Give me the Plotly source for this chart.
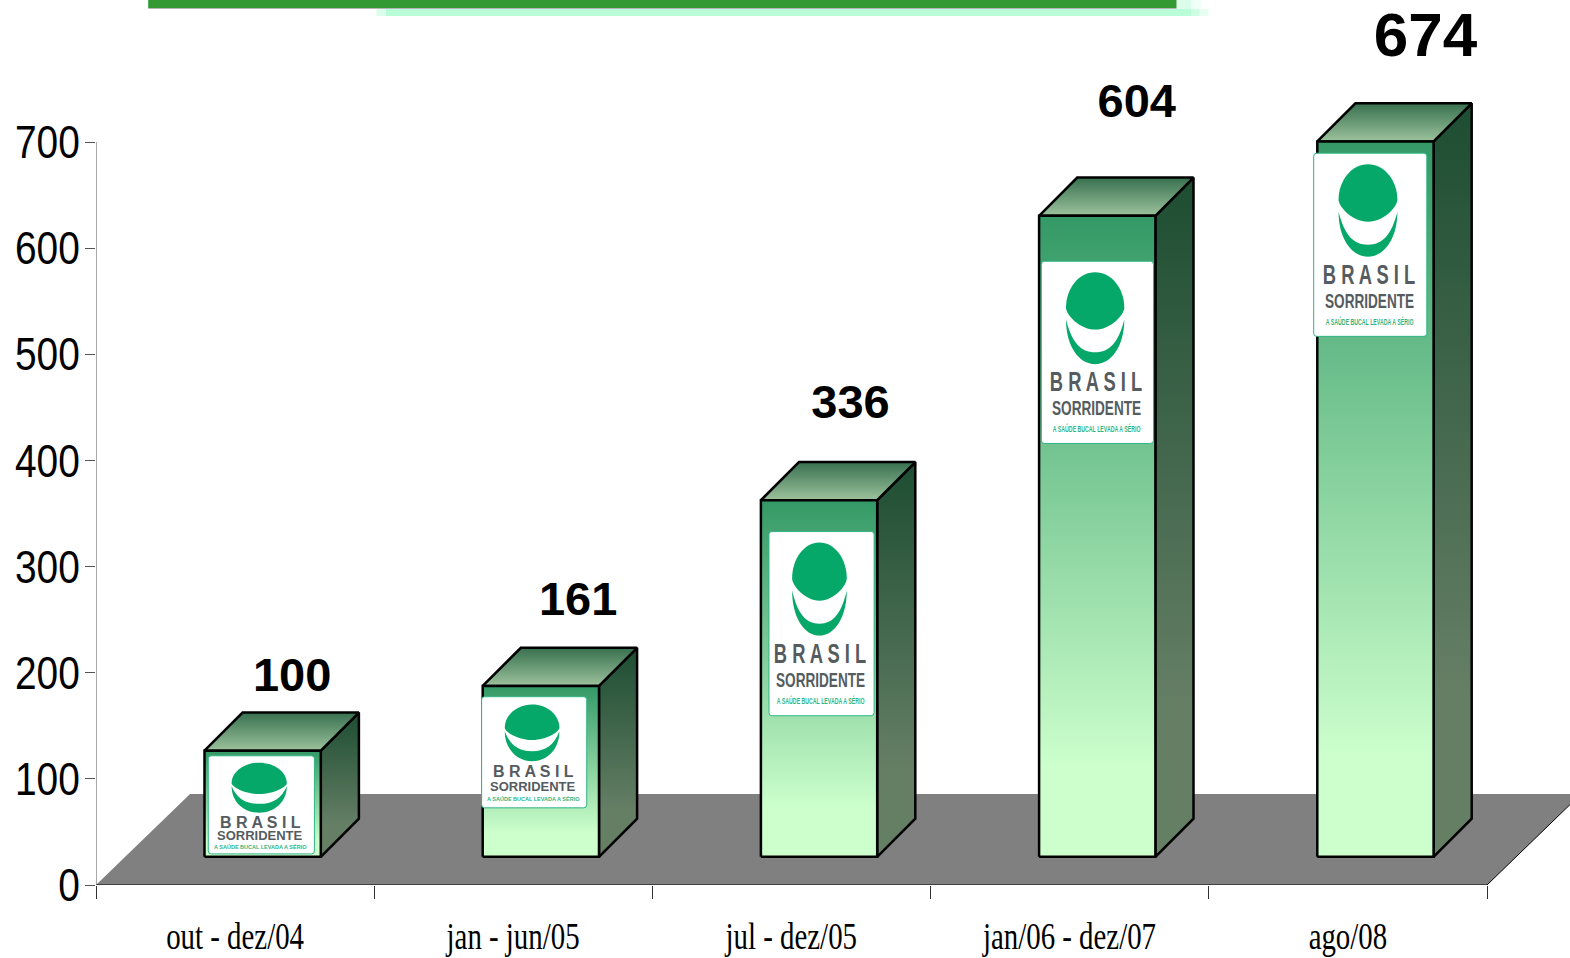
import plotly.graph_objects as go

categories = ["out - dez/04", "jan - jun/05", "jul - dez/05", "jan/06 - dez/07", "ago/08"]
values = [100, 161, 336, 604, 674]
label_y = [194, 265, 451, 735, 796]
label_x_offset = [0.205, 0.233, 0.212, 0.241, 0.279]
label_size = [47, 47, 47, 47, 62]
y_ticks = [0, 100, 200, 300, 400, 500, 600, 700]
# logo boxes, in page pixels: left, top, right, bottom
logo_boxes = [(208, 755, 314, 853), (481, 696, 586, 807), (768, 531, 873, 715),
              (1040, 261, 1152, 443), (1312, 153, 1425, 336)]

W, H = 1570, 958
AX_L, AX_R, AX_T, AX_B = 96, 1487, 142, 885
CAT_PX = (AX_R - AX_L) / len(categories)
UNIT_PX = (AX_B - AX_T) / 700
X_MIN, X_MAX = -0.5, -0.5 + (W - AX_L) / CAT_PX
Y_MAX = AX_B / UNIT_PX
BAR_W, BAR_SHIFT = 0.418, 0.099
DEPTH_X, DEPTH_Y = 0.137, 36
FLOOR_X, FLOOR_Y = 0.338, 85.8
BASE_Y = 26.5

def P(px, py):
    return (px * 1570 / 1568 - AX_L) / (W - AX_L), (AX_B - py * 958 / 957) / AX_B

GREEN = "#05a868"
TEAL = "#2fb583"
GREY = "#555c60"

fig = go.Figure()

fig.add_trace(go.Scatter(x=[-0.5, 4.5, 4.5 + FLOOR_X, -0.5 + FLOOR_X, -0.5], y=[0, 0, FLOOR_Y, FLOOR_Y, 0],
                         mode="lines", fill="toself", fillcolor="#808080", line=dict(width=0),
                         hoverinfo="skip"))
fig.add_trace(go.Scatter(x=[4.5, 4.5 + FLOOR_X], y=[0, FLOOR_Y], mode="lines",
                         line=dict(color="black", width=1), hoverinfo="skip"))
# axis lines stop at the last tick, though the plot area runs on
fig.add_trace(go.Scatter(x=[-0.5, 4.5], y=[0, 0], mode="lines", line=dict(color="black", width=1.2), hoverinfo="skip"))
fig.add_trace(go.Scatter(x=[-0.5, -0.5], y=[0, 700], mode="lines", line=dict(color="#555555", width=1), hoverinfo="skip"))

def face(xs, ys, stops):
    fig.add_trace(go.Scatter(x=xs + xs[:1], y=ys + ys[:1], mode="lines", fill="toself",
                             fillgradient=dict(type="vertical", colorscale=stops),
                             line=dict(color="black", width=2.5), hoverinfo="skip"))

SIDE = [[0, "#657f65"], [0.22, "#657f65"], [1, "#1d4d32"]]
TOP = [[0, "#9cc29c"], [1, "#38704f"]]
FRONT = [[0, "#ccffcc"], [0.14, "#ccffcc"], [1, "#339966"]]

for i, v in enumerate(values):
    x0 = i - 0.5 * BAR_W + BAR_SHIFT
    x1 = x0 + BAR_W
    y0 = BASE_Y
    y1 = BASE_Y + v
    face([x1, x1, x1 + DEPTH_X, x1 + DEPTH_X], [y0, y1, y1 + DEPTH_Y, y0 + DEPTH_Y], SIDE)
    face([x0, x1, x1 + DEPTH_X, x0 + DEPTH_X], [y1, y1, y1 + DEPTH_Y, y1 + DEPTH_Y], TOP)
    face([x0, x1, x1, x0], [y0, y0, y1, y1], FRONT)

fig.add_trace(go.Scatter(
    x=[i + o for i, o in enumerate(label_x_offset)], y=label_y, mode="text",
    text=[str(v) for v in values],
    textfont=dict(family="Liberation Sans", size=label_size, color="black", weight="bold"),
    hoverinfo="skip"))

shapes = []
annotations = []

def rect(x0, y0, x1, y1, fill):
    a, b = P(x0, y1)
    c, d = P(x1, y0)
    shapes.append(dict(type="rect", xref="paper", yref="paper", x0=a, y0=b, x1=c, y1=d,
                       fillcolor=fill, line=dict(width=0), layer="above"))

# banner at the page top
rect(385, 9, 1190, 16, "#b8fcd8")
rect(1190, 9, 1198, 16, "#cefde4")
rect(1198, 9, 1207, 16, "#e8fef3")
rect(376, 9, 385, 16, "#dcfdec")
rect(1175, 0, 1190, 9, "#dcfdec")
rect(1190, 0, 1200, 9, "#f0fff8")
rect(148, 0, 1175, 8, "#339933")
rect(148, 8, 1175, 9, "#b5b5b5")

def path(cmds):
    out = []
    for c in cmds:
        if c == "Z":
            out.append("Z")
        else:
            pts = " ".join("%.6f,%.6f" % P(px, py) for px, py in c[1:])
            out.append(c[0] + pts)
    return " ".join(out)

for (l, t, r, b) in logo_boxes:
    w, h = r - l, b - t
    X = lambda f: l + f * w
    Y = lambda f: t + f * h
    tall = h > 150
    e = 3
    shapes.append(dict(type="path", xref="paper", yref="paper", layer="above", fillcolor="white",
                       line=dict(color=TEAL, width=1),
                       path=path([("M", (l + e, t)), ("L", (r - e, t)), ("Q", (r, t), (r, t + e)),
                                  ("L", (r, b - e)), ("Q", (r, b), (r - e, b)), ("L", (l + e, b)),
                                  ("Q", (l, b), (l, b - e)), ("L", (l, t + e)), ("Q", (l, t), (l + e, t)), "Z"])))
    cx = X(0.48)
    hw = 0.26 * w
    top, mid, bot = (0.06, 0.255, 0.375) if tall else (0.07, 0.28, 0.39)
    k = 0.5523
    shapes.append(dict(type="path", xref="paper", yref="paper", layer="above", fillcolor=GREEN,
                       line=dict(width=0),
                       path=path([("M", (cx - hw, Y(mid))),
                                  ("C", (cx - hw, Y(mid - (mid - top) * k)), (cx - hw * k, Y(top)), (cx, Y(top))),
                                  ("C", (cx + hw * k, Y(top)), (cx + hw, Y(mid - (mid - top) * k)), (cx + hw, Y(mid))),
                                  ("C", (cx + hw, Y(mid + (bot - mid) * 0.3)), (cx + hw * 0.55, Y(bot)), (cx, Y(bot))),
                                  ("C", (cx - hw * 0.55, Y(bot)), (cx - hw, Y(mid + (bot - mid) * 0.3)), (cx - hw, Y(mid))),
                                  "Z"])))
    tip, inner, outer = (0.32, 0.50, 0.565) if tall else (0.31, 0.49, 0.58)
    shapes.append(dict(type="path", xref="paper", yref="paper", layer="above", fillcolor=GREEN,
                       line=dict(width=0),
                       path=path([("M", (cx - hw, Y(tip))),
                                  ("C", (cx - hw, Y(tip + (outer - tip) * 0.6)), (cx - hw * 0.55, Y(outer)), (cx, Y(outer))),
                                  ("C", (cx + hw * 0.55, Y(outer)), (cx + hw, Y(tip + (outer - tip) * 0.6)), (cx + hw, Y(tip))),
                                  ("C", (cx + hw * 0.8, Y(tip + (inner - tip) * 0.7)), (cx + hw * 0.5, Y(inner)), (cx, Y(inner))),
                                  ("C", (cx - hw * 0.5, Y(inner)), (cx - hw * 0.8, Y(tip + (inner - tip) * 0.7)), (cx - hw, Y(tip))),
                                  "Z"])))
    if tall:
        rows = [("B R A S I L", 0.665, 27, GREY, 700),
                ("SORRIDENTE", 0.808, 20, GREY, 700),
                ("A SAÚDE BUCAL LEVADA A SÉRIO", 0.917, 9, TEAL, 700)]
    else:
        rows = [("B R A S I L", 0.675, 16, GREY, 700),
                ("SORRIDENTE", 0.81, 13, GREY, 700),
                ("A SAÚDE BUCAL LEVADA A SÉRIO", 0.92, 5.5, TEAL, 700)]
    for txt, fy, size, col, wt in rows:
        a, d = P(X(0.49), Y(fy))
        annotations.append(dict(xref="paper", yref="paper", x=a, y=d, text=txt, showarrow=False,
                                xanchor="center", yanchor="middle", borderpad=0,
                                font=dict(family="Liberation Sans", size=size, color=col, weight=wt)))

fig.update_layout(
    template="none",
    width=W, height=H, autosize=False, showlegend=False,
    margin=dict(l=AX_L, r=0, t=0, b=H - AX_B, pad=0),
    paper_bgcolor="white", plot_bgcolor="white",
    shapes=shapes, annotations=annotations,
    xaxis=dict(range=[X_MIN, X_MAX], automargin=False, tickmode="array", tickvals=list(range(len(categories))),
               ticktext=categories, ticks="", showgrid=False, zeroline=False, showline=False,
               ticklabelstandoff=26,
               tickfont=dict(family="Liberation Serif", size=37, color="black"),
               minor=dict(tickmode="array", tickvals=[i - 0.5 for i in range(len(categories) + 1)],
                          ticks="outside", ticklen=13, tickwidth=1, tickcolor="#333333", showgrid=False)),
    yaxis=dict(range=[0, Y_MAX], automargin=False, tickmode="array", tickvals=y_ticks, ticks="outside", ticklen=10,
               tickwidth=1, tickcolor="#555555", showgrid=False, zeroline=False, showline=False,
               ticklabelstandoff=-4,
               tickfont=dict(family="Liberation Sans", size=46, color="black")),
)

# The reference's lettering is condensed: narrow the real text elements in place.
post = """
document.body.style.margin = '0';
function squeeze(el, s, anchor) {
  var b = el.getBBox();
  var ax = anchor === 'end' ? b.x + b.width : b.x + b.width / 2;
  var old = el.getAttribute('transform') || '';
  el.setAttribute('transform', old + ' translate(' + ax + ',0) scale(' + s + ',1) translate(' + (-ax) + ',0)');
}
document.querySelectorAll('.xtick text').forEach(function (t) { squeeze(t, 0.78, 'middle'); });
document.querySelectorAll('.ytick text').forEach(function (t) { squeeze(t, 0.845, 'end'); });
var big = {'27px': 0.68, '20px': 0.68, '9px': 0.58};
document.querySelectorAll('.annotation-text').forEach(function (t) {
  var s = big[t.style.fontSize];
  if (s) { squeeze(t, s, 'middle'); }
});
"""
fig.write_html("out.html", post_script=post, config={"displayModeBar": False})
